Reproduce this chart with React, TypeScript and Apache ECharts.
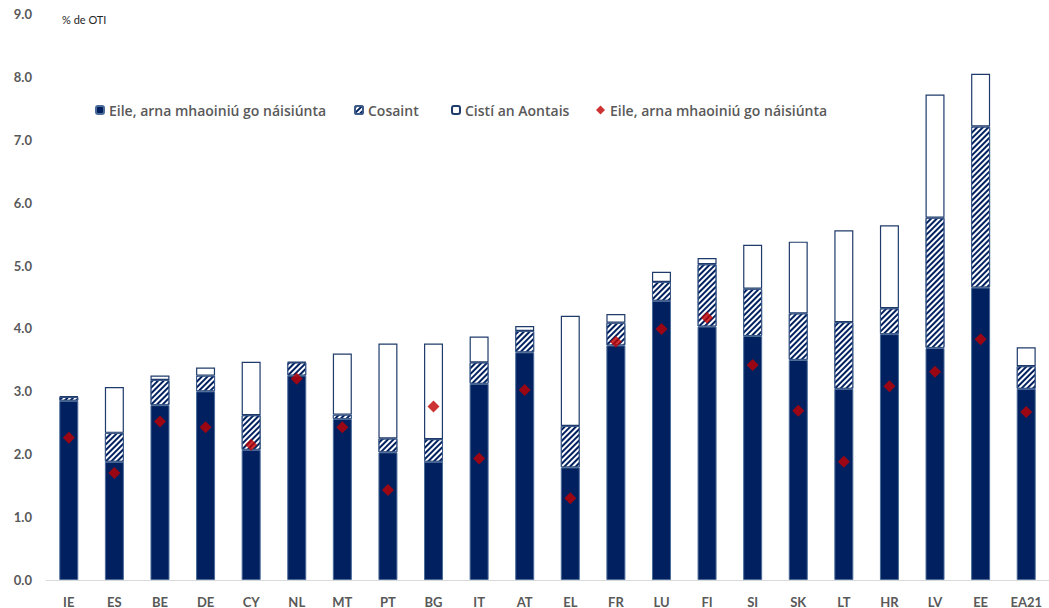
import React, { useEffect, useRef } from "react";
import * as echarts from "echarts";

const categories = ["IE", "ES", "BE", "DE", "CY", "NL", "MT", "PT", "BG", "IT", "AT", "EL", "FR", "LU", "FI", "SI", "SK", "LT", "HR", "LV", "EE", "EA21"];
const nationalFunded = [2.85, 1.88, 2.78, 3.0, 2.07, 3.25, 2.56, 2.03, 1.88, 3.12, 3.62, 1.79, 3.73, 4.44, 4.03, 3.88, 3.5, 3.04, 3.91, 3.69, 4.65, 3.04];
const defence = [0.06, 0.46, 0.4, 0.25, 0.55, 0.21, 0.07, 0.22, 0.36, 0.34, 0.34, 0.66, 0.36, 0.3, 0.99, 0.75, 0.74, 1.06, 0.41, 2.07, 2.56, 0.36];
const euFunds = [0.01, 0.73, 0.07, 0.13, 0.85, 0.01, 0.97, 1.51, 1.52, 0.41, 0.08, 1.75, 0.14, 0.16, 0.1, 0.7, 1.14, 1.46, 1.32, 1.96, 0.84, 0.3];
const nationalFundedMarker = [2.26, 1.7, 2.52, 2.43, 2.15, 3.2, 2.43, 1.43, 2.76, 1.93, 3.02, 1.3, 3.79, 3.99, 4.17, 3.42, 2.69, 1.88, 3.08, 3.31, 3.83, 2.67];
const yTicks = ["0.0", "1.0", "2.0", "3.0", "4.0", "5.0", "6.0", "7.0", "8.0", "9.0"];

const NAME_NAT = "Eile, arna mhaoiniú go náisiúnta";
const NAME_DEF = "Cosaint";
const NAME_EU = "Cistí an Aontais";
const NAME_MARK = "Eile, arna mhaoiniú go náisiúnta ";

const NAVY = "#002060";
const BORDER = "#3d5a88";
const FONT = "Lato, 'Open Sans', sans-serif";
const LEGEND_FONT = "'Open Sans', Lato, sans-serif";

export default function App() {
  const ref = useRef<HTMLDivElement>(null);
  useEffect(() => {
    if (!ref.current) return;
    const chart = echarts.init(ref.current, null, { renderer: "svg" });
    const legendText = { color: "#595959", fontSize: 14, fontWeight: 600 as any, fontFamily: LEGEND_FONT };
    const mkLegend = (name: string, left: number, extra: any = {}) => ({
      data: [name],
      left,
      top: 103,
      itemWidth: 8,
      itemHeight: 8,
      padding: 0,
      selectedMode: false,
      textStyle: legendText,
      formatter: (n: string) => n.trim(),
      ...extra,
    });
    chart.setOption({
      animation: false,
      backgroundColor: "#ffffff",
      grid: { left: 46, right: -11, top: 14, bottom: 28, containLabel: false },
      legend: [
        mkLegend(NAME_NAT, 95),
        mkLegend(NAME_DEF, 354),
        mkLegend(NAME_EU, 451),
        mkLegend(NAME_MARK, 596, { itemWidth: 9, itemHeight: 9 }),
      ],
      graphic: [
        {
          type: "text",
          left: 62,
          top: 14,
          style: { text: "% de OTI", fill: "#262626", fontSize: 11, fontFamily: FONT },
        },
      ],
      xAxis: {
        type: "category",
        data: categories,
        axisLine: { show: true, lineStyle: { color: "#d9d9d9", width: 1 } },
        axisTick: { show: false },
        axisLabel: { color: "#595959", fontSize: 13, fontWeight: "bold", fontFamily: FONT, margin: 15, interval: 0 },
      },
      yAxis: {
        type: "value",
        min: 0,
        max: 9,
        interval: 1,
        axisLine: { show: false },
        axisTick: { show: false },
        splitLine: { show: false },
        axisLabel: {
          color: "#595959",
          fontSize: 13,
          fontWeight: "bold",
          fontFamily: FONT,
          margin: 14,
          formatter: (v: number) => yTicks[Math.round(v)] ?? v.toFixed(1),
        },
      },
      series: [
        {
          name: NAME_NAT,
          type: "bar",
          stack: "total",
          barWidth: 19,
          data: nationalFunded,
          itemStyle: { color: NAVY, borderColor: "#4a6a98", borderWidth: 1 },
        },
        {
          name: NAME_DEF,
          type: "bar",
          stack: "total",
          barWidth: 19,
          data: defence,
          itemStyle: {
            color: "#ffffff",
            borderColor: BORDER,
            borderWidth: 1,
            decal: {
              symbol: "rect",
              symbolSize: 1,
              color: NAVY,
              dashArrayX: [1, 0],
              dashArrayY: [2, 2],
              rotation: -Math.PI / 4,
            },
          },
        },
        {
          name: NAME_EU,
          type: "bar",
          stack: "total",
          barWidth: 19,
          data: euFunds,
          itemStyle: { color: "#ffffff", borderColor: "#1f3b6b", borderWidth: 1.2 },
        },
        {
          name: NAME_MARK,
          type: "scatter",
          symbol: "diamond",
          symbolSize: 12,
          data: nationalFundedMarker,
          itemStyle: { color: "#c00000" },
          z: 5,
        },
      ],
    });
    return () => chart.dispose();
  }, []);
  return <div ref={ref} style={{ position: "fixed", left: 0, top: 0, width: 1049, height: 608 }} />;
}
